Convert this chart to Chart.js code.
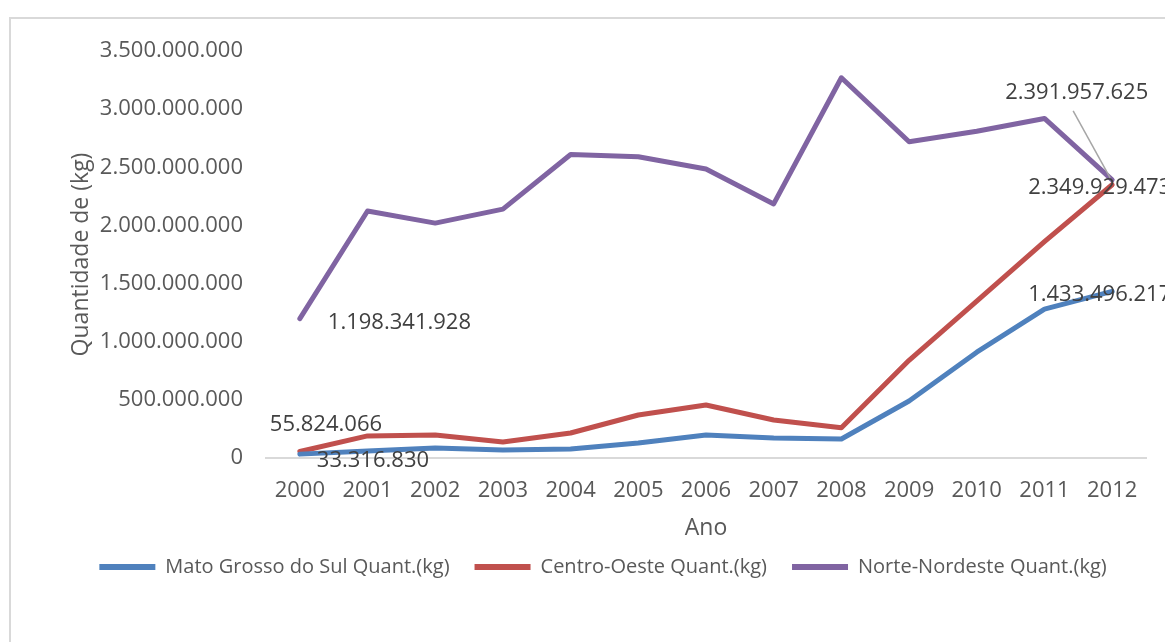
<!DOCTYPE html>
<html>
<head>
<meta charset="utf-8">
<script src="https://cdn.jsdelivr.net/npm/chart.js@4"></script>
<style>
  body { margin: 0; background: #fff; }
  #frame { position: absolute; left: 9px; top: 17px; width: 1200px; height: 700px; border: 2px solid #d9d9d9; }
  #wrap { position: absolute; left: 0; top: 0; width: 1165px; height: 642px; }
</style>
</head>
<body>
<div id="frame"></div>
<div id="wrap"><canvas id="myChart" width="1165" height="642"></canvas></div>
<script>
const anos = ['2000', '2001', '2002', '2003', '2004', '2005', '2006', '2007', '2008', '2009', '2010', '2011', '2012'];
const matoGrossoDoSul = [33316830, 60000000, 86000000, 69000000, 77000000, 129000000, 198000000, 172000000, 163000000, 490000000, 910000000, 1280000000, 1433496217];
const centroOeste = [55824066, 190000000, 198000000, 138000000, 215000000, 370000000, 456000000, 327000000, 260000000, 840000000, 1350000000, 1860000000, 2349929473];
const norteNordeste = [1198341928, 2124000000, 2020000000, 2140000000, 2610000000, 2590000000, 2485000000, 2185000000, 3270000000, 2720000000, 2810000000, 2920000000, 2391957625];
const yTicks = [0, 500000000, 1000000000, 1500000000, 2000000000, 2500000000, 3000000000, 3500000000];

function formatoBR(v) {
    return String(Math.round(v)).replace(/\B(?=(\d{3})+(?!\d))/g, '.');
}

// rotulos de dados so nos pontos que aparecem no grafico original
const rotulos = [
    { ds: 0, i: 0, dx: 17, dy: 7 },
    { ds: 0, i: 12, dx: -84, dy: 3 },
    { ds: 1, i: 0, dx: -30, dy: -27 },
    { ds: 1, i: 12, dx: -84, dy: 3 },
    { ds: 2, i: 0, dx: 28, dy: 4 },
    { ds: 2, i: 12, dx: -107, dy: -87, leader: true }
];

const rotulosPlugin = {
    id: 'rotulos',
    afterDatasetsDraw(chart) {
        const ctx = chart.ctx;
        ctx.save();
        ctx.font = '22px "Open Sans"';
        ctx.fillStyle = '#404040';
        ctx.textBaseline = 'middle';
        ctx.textAlign = 'left';
        rotulos.forEach(r => {
            const pt = chart.getDatasetMeta(r.ds).data[r.i];
            const valor = chart.data.datasets[r.ds].data[r.i];
            const x = pt.x + r.dx;
            const y = pt.y + r.dy;
            if (r.leader) {
                ctx.strokeStyle = '#a6a6a6';
                ctx.lineWidth = 1.5;
                ctx.beginPath();
                ctx.moveTo(pt.x - 39, y + 18);
                ctx.lineTo(pt.x - 2, pt.y - 2);
                ctx.stroke();
            }
            ctx.fillText(formatoBR(valor), x, y);
        });
        ctx.restore();
    }
};

const ctx = document.getElementById('myChart').getContext('2d');
const myChart = new Chart(ctx, {
    type: 'line',
    data: {
        labels: anos,
        datasets: [
            { label: 'Mato Grosso do Sul Quant.(kg)', data: matoGrossoDoSul, borderColor: '#4f81bd', backgroundColor: '#4f81bd' },
            { label: 'Centro-Oeste Quant.(kg)', data: centroOeste, borderColor: '#c0504d', backgroundColor: '#c0504d' },
            { label: 'Norte-Nordeste Quant.(kg)', data: norteNordeste, borderColor: '#8064a2', backgroundColor: '#8064a2' }
        ]
    },
    options: {
        responsive: false,
        animation: false,
        elements: {
            line: { borderWidth: 5, tension: 0, borderCapStyle: 'round', borderJoinStyle: 'round' },
            point: { radius: 0, hoverRadius: 0, borderWidth: 6 }
        },
        layout: { padding: { left: 60, top: 51, right: 19, bottom: 55 } },
        scales: {
            x: {
                offset: true,
                grid: { display: false, drawTicks: false },
                border: { display: true, color: '#d9d9d9', width: 2 },
                ticks: { color: '#595959', font: { family: 'Open Sans', size: 22 }, padding: 20, maxRotation: 0 },
                title: { display: true, text: 'Ano', color: '#595959', font: { family: 'Open Sans', size: 23 }, padding: { top: -10, bottom: -10 } }
            },
            y: {
                min: 0,
                max: 3500000000,
                afterBuildTicks(scale) { scale.ticks = yTicks.map(v => ({ value: v })); },
                afterFit(scale) { scale.width = 206; },
                grid: { display: false, drawTicks: false },
                border: { display: false },
                ticks: { color: '#595959', font: { family: 'Open Sans', size: 22 }, padding: 23, callback: v => formatoBR(v) },
                title: { display: true, text: 'Quantidade de (kg)', color: '#595959', font: { family: 'Open Sans', size: 23 }, padding: { top: 8, bottom: 4 } }
            }
        },
        plugins: {
            legend: {
                position: 'bottom',
                labels: {
                    usePointStyle: true,
                    pointStyle: 'line',
                    pointStyleWidth: 56,
                    color: '#595959',
                    font: { family: 'Open Sans', size: 20 },
                    padding: 25
                }
            },
            tooltip: { enabled: false }
        }
    },
    plugins: [rotulosPlugin]
});
</script>
</body>
</html>
